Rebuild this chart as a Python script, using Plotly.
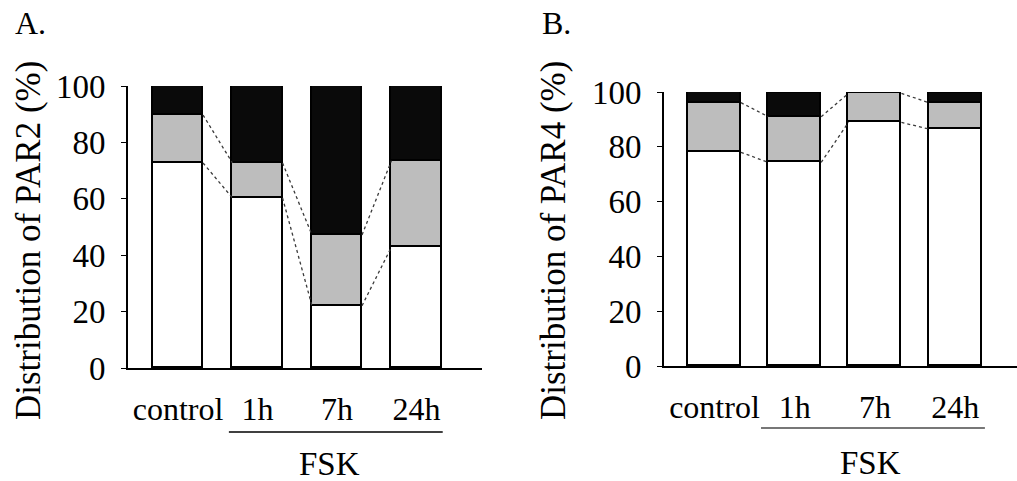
import numpy as np
import plotly.graph_objects as go

categories = ["control", "1h", "7h", "24h"]
# PAR2 distribution (%), stacked segments: white (bottom), gray (middle), black (top)
par2_white = [72.7, 60.3, 22.1, 42.9]
par2_gray = [17.0, 12.4, 25.1, 30.6]
par2_black = [10.3, 27.3, 52.8, 26.5]
# PAR4 distribution (%)
par4_white = [78.0, 74.3, 88.9, 86.5]
par4_gray = [18.1, 16.7, 10.6, 9.6]
par4_black = [3.9, 8.6, 0.0, 3.4]
y_ticks = [0, 20, 40, 60, 80, 100]

W, H = 1017, 481
FONT = "Liberation Serif"
GRAY = "#bdbdbd"
BLACK = "#0a0a0a"

fig = go.Figure()

def add_panel(white, gray, black, xa, ya, width):
    x = np.arange(len(categories))
    for vals, col in [(white, "white"), (gray, GRAY), (black, BLACK)]:
        fig.add_trace(go.Bar(x=x, y=vals, width=width, marker=dict(color=col, line=dict(color="black", width=1.6)),
                             xaxis=xa, yaxis=ya, showlegend=False, hoverinfo="skip"))
    cw = np.cumsum([white, gray], axis=0)
    for level in cw:
        for i in range(len(categories) - 1):
            fig.add_trace(go.Scatter(x=[x[i] + width / 2, x[i + 1] - width / 2], y=[level[i], level[i + 1]],
                                     mode="lines", line=dict(color="#3a3a3a", width=1.3, dash="dot"),
                                     xaxis=xa, yaxis=ya, showlegend=False, hoverinfo="skip"))

add_panel(par2_white, par2_gray, par2_black, "x", "y", 0.63)
add_panel(par4_white, par4_gray, par4_black, "x2", "y2", 0.66)

ydom = [1 - 368 / H, 1 - 86 / H]
ydom2 = [1 - 366 / H, 1 - 92 / H]
common_y = dict(range=[0, 100], tickvals=y_ticks, ticks="outside", ticklen=5, tickwidth=1.2, tickcolor="black",
                showline=True, linecolor="black", linewidth=1.6, showgrid=False, zeroline=False, automargin=False,
                tickfont=dict(family=FONT, size=33, color="black"), ticklabelstandoff=9)
common_x = dict(tickvals=list(range(4)), ticktext=categories, ticks="", showline=True, linecolor="black",
                linewidth=1.6, showgrid=False, zeroline=False, automargin=False,
                tickfont=dict(family=FONT, size=32, color="black"), ticklabelstandoff=12)

fig.update_layout(
    width=W, height=H, margin=dict(l=0, r=0, t=0, b=0, autoexpand=False),
    paper_bgcolor="white", plot_bgcolor="white", barmode="stack", bargap=0,
    font=dict(family=FONT),
    xaxis=dict(domain=[128 / W, 482 / W], range=[-0.629, 3.824], anchor="y", **common_x),
    yaxis=dict(domain=ydom, anchor="x", **common_y),
    xaxis2=dict(domain=[664 / W, 1.0], range=[-0.629, 3.77], anchor="y2", **common_x),
    yaxis2=dict(domain=ydom2, anchor="x2", **common_y),
)

# FSK underlines and labels
fig.add_shape(type="line", xref="x", yref="paper", x0=0.64, x1=3.33, y0=1 - 432 / H, y1=1 - 432 / H,
              line=dict(color="black", width=1.6))
fig.add_shape(type="line", xref="x2", yref="paper", x0=0.58, x1=3.37, y0=1 - 428 / H, y1=1 - 428 / H,
              line=dict(color="#777777", width=2))
fig.add_annotation(text="FSK", xref="x", yref="paper", x=1.91, y=1 - 464 / H, showarrow=False,
                   font=dict(family=FONT, size=33, color="black"), xanchor="center", yanchor="middle")
fig.add_annotation(text="FSK", xref="x2", yref="paper", x=1.94, y=1 - 463 / H, showarrow=False,
                   font=dict(family=FONT, size=33, color="black"), xanchor="center", yanchor="middle")

# y-axis titles
fig.add_annotation(text="Distribution of PAR2 (%)", xref="paper", yref="paper", x=28 / W, y=1 - 241 / H,
                   textangle=-90, showarrow=False, font=dict(family=FONT, size=35, color="black"),
                   xanchor="center", yanchor="middle")
fig.add_annotation(text="Distribution of PAR4 (%)", xref="paper", yref="paper", x=553 / W, y=1 - 241 / H,
                   textangle=-90, showarrow=False, font=dict(family=FONT, size=35, color="black"),
                   xanchor="center", yanchor="middle")

# panel letters
fig.add_annotation(text="A.", xref="paper", yref="paper", x=13 / W, y=1 - 23 / H, showarrow=False,
                   font=dict(family=FONT, size=32, color="black"), xanchor="left", yanchor="middle")
fig.add_annotation(text="B.", xref="paper", yref="paper", x=540 / W, y=1 - 23 / H, showarrow=False,
                   font=dict(family=FONT, size=32, color="black"), xanchor="left", yanchor="middle")

fig.write_html("out.html")
